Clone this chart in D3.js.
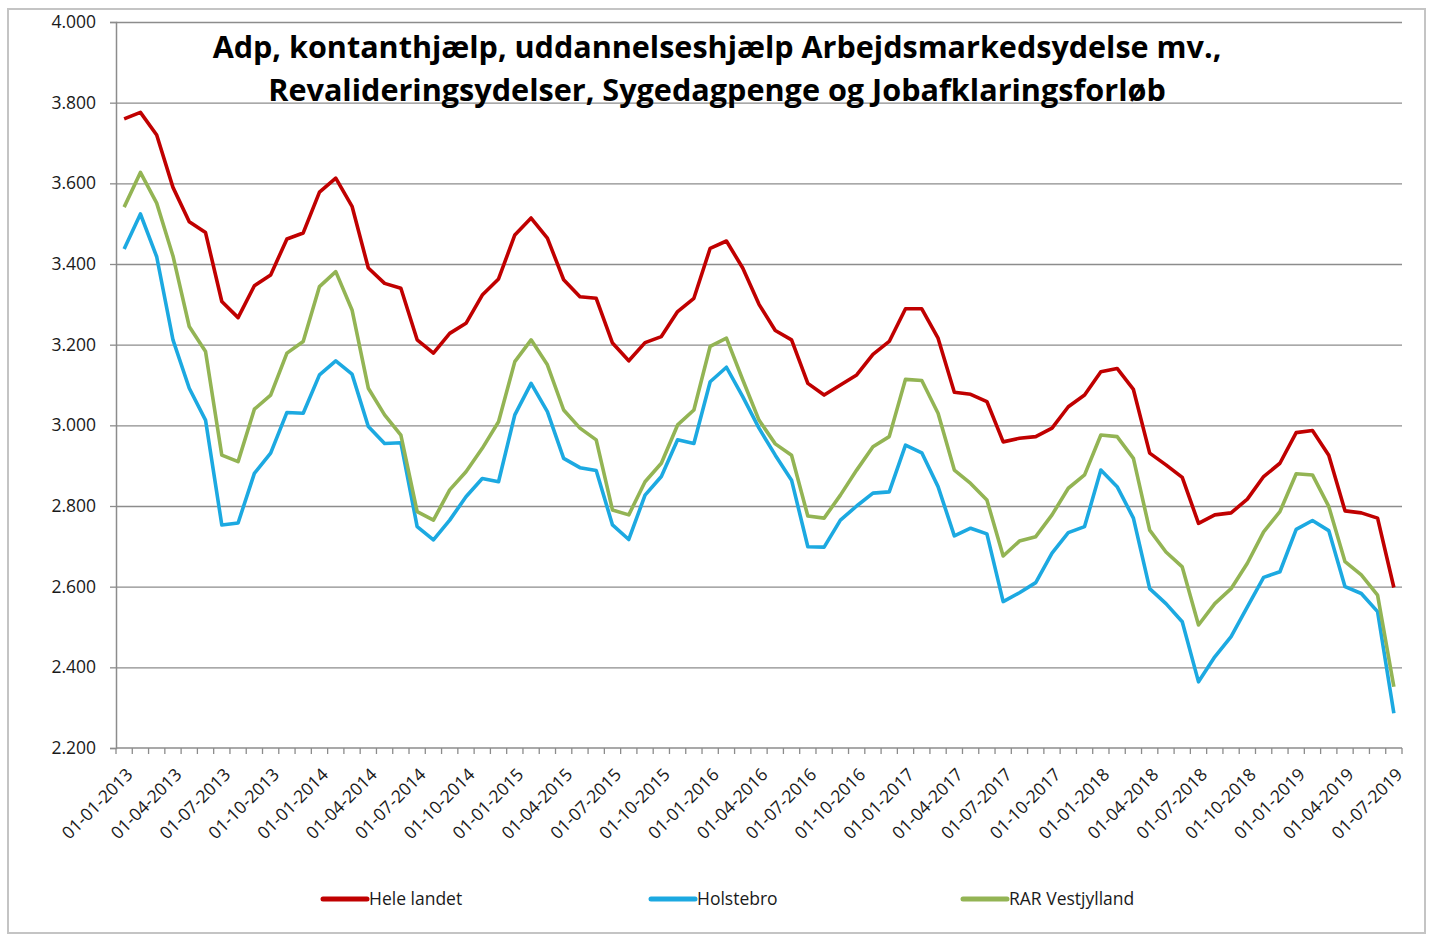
<!DOCTYPE html>
<html>
<head>
<meta charset="utf-8">
<script src="https://cdn.jsdelivr.net/npm/d3@7"></script>
<style>
  body { margin: 0; background: #fff; }
  svg { display: block; }
</style>
</head>
<body>
<script>
// months 01-01-2013 .. 01-07-2019
const months = d3.timeMonth.range(new Date(2013, 0, 1), new Date(2019, 7, 1));
const monthLabels = months.map(d3.timeFormat("%d-%m-%Y"));

const seriesNames = ["Hele landet", "Holstebro", "RAR Vestjylland"];
const seriesColors = ["#c00000", "#1ca9e1", "#93b454"];

const heleLandet = [
  3760, 3776, 3720, 3590, 3505, 3478, 3307, 3267, 3346, 3373, 3462, 3477,
  3578, 3613, 3543, 3390, 3352, 3340, 3212, 3179, 3228, 3253, 3323, 3363,
  3472, 3514, 3464, 3361, 3319, 3315, 3204, 3160, 3205, 3220, 3282, 3315,
  3439, 3457, 3390, 3300, 3235, 3212, 3104, 3075, 3100, 3125, 3176, 3208,
  3289, 3289, 3216, 3082, 3077, 3059, 2959, 2968, 2972, 2993, 3046, 3075,
  3133, 3141, 3089, 2931, 2902, 2871, 2757, 2778, 2783, 2817, 2873, 2906,
  2982, 2987, 2926, 2788, 2783, 2770, 2598
];
const holstebro = [
  3437, 3524, 3418, 3212, 3092, 3013, 2753, 2758, 2881, 2931, 3032, 3030,
  3125, 3160, 3127, 2997, 2955, 2957, 2749, 2716, 2765, 2823, 2868, 2860,
  3026, 3104, 3034, 2918, 2895, 2888, 2753, 2717, 2827, 2873, 2964, 2955,
  3108, 3144, 3071, 2993, 2926, 2864, 2699, 2698, 2765, 2800, 2832, 2835,
  2951, 2932, 2848, 2726, 2745, 2731, 2563, 2585, 2610, 2683, 2734, 2749,
  2889, 2848, 2770, 2595, 2558, 2513, 2364, 2426, 2476, 2550, 2623, 2637,
  2742, 2764, 2739, 2600, 2583, 2538, 2286
];
const rarVestjylland = [
  3541, 3627, 3551, 3420, 3245, 3183, 2926, 2910, 3040, 3075, 3179, 3208,
  3344, 3381, 3286, 3092, 3026, 2976, 2786, 2765, 2840, 2885, 2943, 3009,
  3158, 3212, 3150, 3038, 2993, 2964, 2790, 2778, 2860, 2906, 3001, 3038,
  3196, 3216, 3113, 3013, 2954, 2926, 2775, 2770, 2827, 2889, 2947, 2972,
  3114, 3111, 3030, 2889, 2856, 2815, 2676, 2713, 2724, 2778, 2844, 2877,
  2976, 2972, 2918, 2740, 2686, 2649, 2505, 2558, 2595, 2658, 2736, 2786,
  2880, 2877, 2799, 2662, 2629, 2579, 2352
];
const seriesValues = [heleLandet, holstebro, rarVestjylland];

const yTicks = [2200, 2400, 2600, 2800, 3000, 3200, 3400, 3600, 3800, 4000];
const titleLines = [
  "Adp, kontanthjælp, uddannelseshjælp Arbejdsmarkedsydelse mv.,",
  "Revalideringsydelser, Sygedagpenge og Jobafklaringsforløb"
];

const W = 1432, H = 935;
const plot = { left: 116, right: 1402, top: 22, bottom: 748 };
const font = "'Open Sans', 'Noto Sans', sans-serif";
const textColor = "#1a1a1a";

const svg = d3.select("body").append("svg").attr("width", W).attr("height", H);

// outer chart frame
svg.append("rect")
  .attr("x", 8).attr("y", 9).attr("width", 1417).attr("height", 924)
  .attr("fill", "#fff").attr("stroke", "#c4c4c4").attr("stroke-width", 2);

const x = d3.scalePoint().domain(monthLabels).range([plot.left, plot.right]).padding(0.5);
const xBand = d3.scaleBand().domain(monthLabels).range([plot.left, plot.right]);
const y = d3.scaleLinear().domain([2200, 4000]).range([plot.bottom, plot.top]);

const da = d3.formatLocale({ decimal: ",", thousands: ".", grouping: [3], currency: ["", " kr."] });
const fmt = da.format(",");

// gridlines
svg.append("g")
  .attr("transform", `translate(${plot.left},0)`)
  .call(d3.axisLeft(y).tickValues(yTicks.slice(1)).tickSize(-(plot.right - plot.left)).tickFormat(""))
  .call(g => g.select(".domain").remove())
  .call(g => g.selectAll("line").attr("stroke", "#8c8c8c").attr("stroke-width", 1.3));

// y axis
svg.append("g")
  .attr("transform", `translate(${plot.left},0)`)
  .call(d3.axisLeft(y).tickValues(yTicks).tickSize(6).tickPadding(14).tickFormat(fmt))
  .call(g => g.select(".domain").attr("stroke", "#8c8c8c").attr("stroke-width", 1.5))
  .call(g => g.selectAll("line").attr("stroke", "#8c8c8c").attr("stroke-width", 1.3))
  .call(g => g.selectAll("text").attr("font-family", font).attr("font-size", 17.5).attr("fill", textColor));

// x axis line + boundary ticks
const xAxis = svg.append("g");
xAxis.append("line")
  .attr("x1", plot.left).attr("x2", plot.right)
  .attr("y1", plot.bottom).attr("y2", plot.bottom)
  .attr("stroke", "#8c8c8c").attr("stroke-width", 1.5);
xAxis.selectAll("line.tick")
  .data(monthLabels.concat(["end"]))
  .join("line")
  .attr("class", "tick")
  .attr("x1", d => d === "end" ? plot.right : xBand(d))
  .attr("x2", d => d === "end" ? plot.right : xBand(d))
  .attr("y1", plot.bottom).attr("y2", plot.bottom + 6)
  .attr("stroke", "#8c8c8c").attr("stroke-width", 1.3);

// quarterly labels
xAxis.selectAll("text")
  .data(monthLabels.filter((d, i) => i % 3 === 0))
  .join("text")
  .attr("transform", d => `translate(${x(d) + 1},${plot.bottom + 19}) rotate(-45)`)
  .attr("dy", "0.71em")
  .attr("text-anchor", "end")
  .attr("font-family", font).attr("font-size", 17.5).attr("fill", textColor)
  .text(d => d);

// lines
const line = d3.line()
  .x((d, i) => x(monthLabels[i]))
  .y(d => y(d));

svg.append("g")
  .selectAll("path")
  .data(seriesValues)
  .join("path")
  .attr("d", line)
  .attr("fill", "none")
  .attr("stroke", (d, i) => seriesColors[i])
  .attr("stroke-width", 3.6)
  .attr("stroke-linejoin", "round");

// title
const title = svg.append("g");
const titleTargets = [1009, 898];
titleLines.forEach((t, i) => {
  const tx = title.append("text")
    .attr("x", 717).attr("y", 58 + i * 43)
    .attr("text-anchor", "middle")
    .attr("font-family", font).attr("font-weight", 700)
    .attr("font-size", 28).attr("fill", "#000")
    .text(t);
  const len = tx.node().getComputedTextLength();
  tx.attr("font-size", 28 * titleTargets[i] / len);
});

// legend
const legendX = [323, 651, 963];
const legend = svg.append("g")
  .selectAll("g")
  .data(seriesNames)
  .join("g")
  .attr("transform", (d, i) => `translate(${legendX[i]},899)`);
legend.append("line")
  .attr("x1", 0).attr("x2", 44)
  .attr("stroke", (d, i) => seriesColors[i])
  .attr("stroke-width", 5)
  .attr("stroke-linecap", "round");
legend.append("text")
  .attr("x", 46).attr("dy", "0.35em")
  .attr("font-family", font).attr("font-size", 17.5).attr("fill", textColor)
  .text(d => d);
</script>
</body>
</html>
